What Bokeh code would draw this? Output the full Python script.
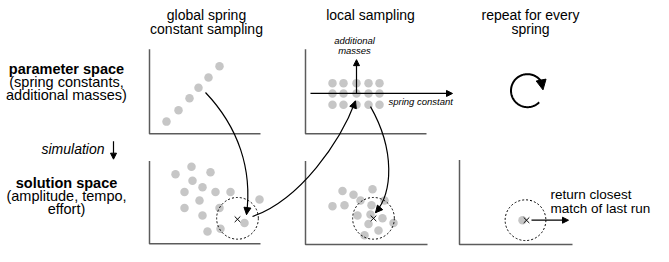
import numpy as np
from bokeh.plotting import figure
from bokeh.models import Range1d, Arrow, NormalHead, ColumnDataSource
from bokeh.core.properties import value
from bokeh.embed import file_html
from bokeh.resources import INLINE

# ---------------- data (reference pixel coordinates, y downwards) ----------------
column_titles = ["global spring", "constant sampling", "local sampling", "repeat for every", "spring"]
column_title_x = [206, 206, 370, 530, 530]
column_title_y = [15, 30, 15, 15, 30]

param_labels = ["parameter space", "(spring constants,", "additional masses)"]
param_label_y = [73, 87, 101]
solution_labels = ["solution space", "(amplitude, tempo,", "effort)"]
solution_label_y = [194, 208, 222]
row_label_x = 66

sim_label = "simulation"

# panel frames: left, right, top, bottom
panel_left = [149, 305, 149, 305, 459]
panel_right = [260, 426, 260, 427, 572]
panel_top = [52, 52, 171, 171, 170]
panel_bottom = [142, 142, 259, 260, 260]

# global sampling points (parameter space)
global_x = [166, 178, 189, 198, 208, 219]
global_y = [129, 117, 104, 93, 82, 70]

# local sampling grid
local_cols = [332, 343, 356, 368, 379]
local_rows = [88, 99, 111]

# solution points from global sampling
sol1_x = [175, 191, 210, 192, 184, 202, 215, 230, 199, 184, 219, 202, 207, 220, 244, 259]
sol1_y = [185, 177, 183, 192, 204, 199, 204, 204, 213, 221, 221, 229, 246, 243, 237, 212]

# solution points from local sampling
sol2_x = [342, 353, 372, 332, 344, 360, 371, 384, 357, 370, 382, 368, 393, 378, 364]
sol2_y = [203, 207, 201, 219, 218, 213, 218, 213, 229, 228, 232, 238, 237, 245, 250]

# last run
sol3_x = [522]
sol3_y = [234]

# best matches (crosses) and neighbourhoods
best_x = [237, 373, 526]
best_y = [233, 232, 234]
neigh_x = [237, 373, 525]
neigh_y = [232, 232, 234]
neigh_r = [21.5, 21.5, 21]

# curved transitions (cubic bezier)
curve_x0 = [205, 252, 370]
curve_y0 = [98, 230, 113]
curve_cx0 = [238, 300, 395]
curve_cy0 = [135, 212, 160]
curve_cx1 = [252, 340, 392]
curve_cy1 = [180, 150, 205]
curve_x1 = [246, 355, 375]
curve_y1 = [228, 107, 226]

# straight arrows: local axes, simulation, return
arrow_x0 = [310, 356, 113, 531]
arrow_y0 = [99, 99, 150, 234]
arrow_x1 = [452, 356, 113, 568]
arrow_y1 = [99, 63, 169, 234]

# repeat symbol
loop_cx, loop_cy, loop_r = 527, 96, 16.5
loop_start_deg, loop_end_deg = 32, 315

# ---------------- figure ----------------
PW, PH = 653, 246
X0, X1 = 0, 653
Y0, Y1 = 0, 262
SY = PH / (Y1 - Y0)  # screen px per data unit (y)
p = figure(width=PW, height=PH, output_backend="svg", toolbar_location=None,
           x_range=Range1d(X0, X1), y_range=Range1d(Y1, Y0), min_border=0)
p.axis.visible = False
p.grid.visible = False
p.outline_line_color = None
p.background_fill_color = "white"
p.border_fill_color = "white"

FONT = value("Liberation Sans")
DOT = "#c6c6c6"

# panel frames
p.multi_line(xs=[[l, l, r] for l, r in zip(panel_left, panel_right)],
             ys=[[t, b, b] for t, b in zip(panel_top, panel_bottom)],
             line_color="#5c5c5c", line_width=1.5)

# dots
gx = [x for x in local_cols for _ in local_rows]
gy = [y for _ in local_cols for y in local_rows]
p.scatter(global_x + gx + sol1_x + sol2_x + sol3_x,
          global_y + gy + sol1_y + sol2_y + sol3_y,
          size=8.5, fill_color=DOT, line_color=None)

# neighbourhoods
p.scatter(neigh_x, neigh_y, size=[2 * r * 0.97 for r in neigh_r], marker="circle",
          fill_color=None, line_color="black", line_width=1, line_dash="2 2")
# crosses
p.scatter(best_x, best_y, marker="x", size=8, line_color="black", line_width=1)

# curves
p.bezier(x0=curve_x0, y0=curve_y0, x1=curve_x1, y1=curve_y1,
         cx0=curve_cx0, cy0=curve_cy0, cx1=curve_cx1, cy1=curve_cy1,
         line_color="black", line_width=1.2)

# heads for curves
hx0, hy0 = [], []
for x1, y1, cx, cy in zip(curve_x1, curve_y1, curve_cx1, curve_cy1):
    d = np.hypot(x1 - cx, y1 - cy)
    hx0.append(x1 - (x1 - cx) / d * 3)
    hy0.append(y1 - (y1 - cy) / d * 3)
curve_heads = ColumnDataSource(dict(x0=hx0, y0=hy0, x1=curve_x1, y1=curve_y1))
p.add_layout(Arrow(end=NormalHead(size=7, fill_color="black", line_color="black", line_width=1),
                   x_start="x0", y_start="y0", x_end="x1", y_end="y1",
                   source=curve_heads, line_width=1, line_color="black"))

# straight arrows
straight = ColumnDataSource(dict(x0=arrow_x0, y0=arrow_y0, x1=arrow_x1, y1=arrow_y1))
p.add_layout(Arrow(end=NormalHead(size=6, fill_color="black", line_color="black", line_width=1),
                   x_start="x0", y_start="y0", x_end="x1", y_end="y1",
                   source=straight, line_width=1.2, line_color="black"))

# repeat symbol (round on screen)
th = np.radians(np.linspace(loop_start_deg, loop_end_deg, 80))
ry = loop_r / SY
p.line(loop_cx + loop_r * np.cos(th), loop_cy - ry * np.sin(th), line_color="black", line_width=2)
t0 = np.radians(loop_start_deg)
ex, ey = loop_cx + loop_r * np.cos(t0), loop_cy - ry * np.sin(t0)
loop_head = ColumnDataSource(dict(x0=[ex - 0.2], y0=[ey - 1], x1=[ex + 1.5], y1=[ey + 8.5]))
p.add_layout(Arrow(end=NormalHead(size=10, fill_color="black", line_color="black", line_width=1),
                   x_start="x0", y_start="y0", x_end="x1", y_end="y1",
                   source=loop_head, line_width=0, line_alpha=0))

# texts
p.text(column_title_x, column_title_y, text=column_titles, text_font=FONT, text_font_size="14px",
       text_align="center", text_baseline="middle", text_color="black")
p.text([row_label_x], [param_label_y[0]], text=[param_labels[0]], text_font=FONT, text_font_size="14.5px",
       text_font_style="bold", text_align="center", text_baseline="middle", text_color="black")
p.text([row_label_x] * 2, param_label_y[1:], text=param_labels[1:], text_font=FONT, text_font_size="14.5px",
       text_align="center", text_baseline="middle", text_color="black")
p.text([row_label_x], [solution_label_y[0]], text=[solution_labels[0]], text_font=FONT, text_font_size="14.5px",
       text_font_style="bold", text_align="center", text_baseline="middle", text_color="black")
p.text([row_label_x] * 2, solution_label_y[1:], text=solution_labels[1:], text_font=FONT, text_font_size="14.5px",
       text_align="center", text_baseline="middle", text_color="black")
p.text([104], [158], text=[sim_label], text_font=FONT, text_font_size="14px", text_font_style="italic",
       text_align="right", text_baseline="middle", text_color="black")
p.text([354, 354], [43, 53], text=["additional", "masses"], text_font=FONT, text_font_size="9.5px",
       text_font_style="italic", text_align="center", text_baseline="middle", text_color="black")
p.text([388], [108], text=["spring constant"], text_font=FONT, text_font_size="9.5px",
       text_font_style="italic", text_align="left", text_baseline="middle", text_color="black")
p.text([550, 550], [207, 222], text=["return closest", "match of last run"], text_font=FONT,
       text_font_size="13.5px", text_align="left", text_baseline="middle", text_color="black")

open("out.html", "w").write(file_html(p, INLINE))
